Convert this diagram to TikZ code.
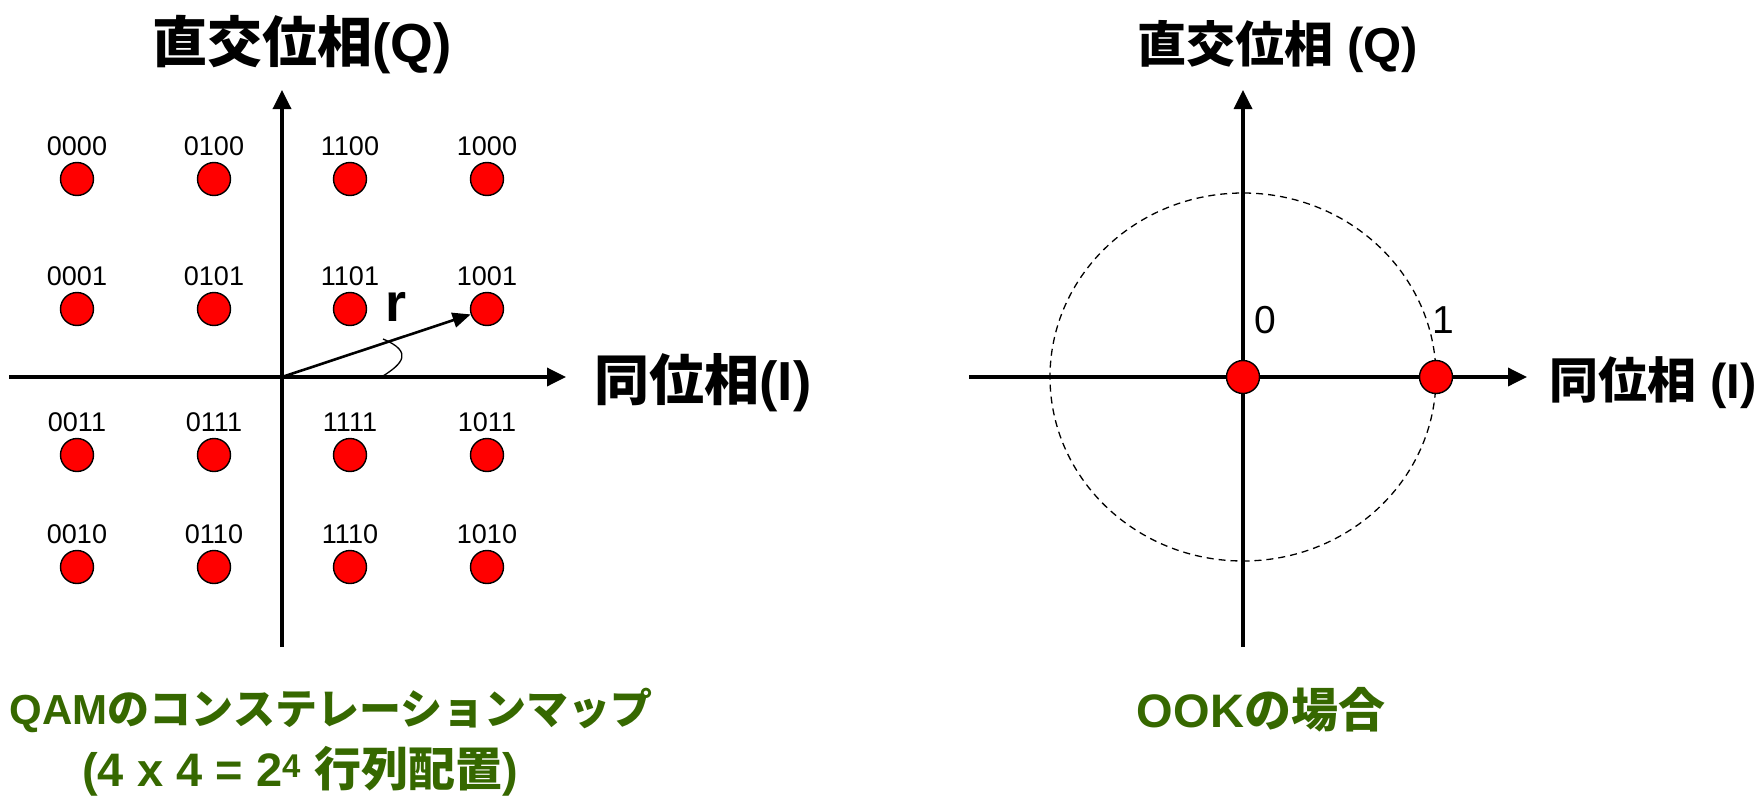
\documentclass[tikz,border=0pt]{standalone}
\usepackage{fontspec}
\setmainfont{Liberation Sans}
\newfontfamily\cjk{Noto Sans CJK JP}
\usetikzlibrary{arrows.meta}
\definecolor{capgreen}{RGB}{54,104,0}
\tikzset{
  dot/.style={circle, draw=black, line width=1.4pt, fill=red, minimum size=33pt, inner sep=0pt},
  bitlbl/.style={inner sep=0pt, font=\fontsize{27}{30}\selectfont},
  onelbl/.style={inner sep=0pt, font=\fontsize{39}{44}\selectfont},
  axisline/.style={line width=3.5pt, -{Triangle[length=19pt,width=18pt]}},
  axlbl/.style={inner sep=0pt, font=\fontsize{55}{62}\selectfont\bfseries},
  axlblr/.style={inner sep=0pt, font=\fontsize{49}{56}\selectfont\bfseries},
  captxt/.style={inner sep=0pt, text=capgreen, font=\fontsize{42}{50}\selectfont\bfseries},
  captxtb/.style={inner sep=0pt, text=capgreen, font=\fontsize{47}{54}\selectfont\bfseries},
}
\begin{document}
\begin{tikzpicture}[x=1pt,y=-1pt]
\useasboundingbox (0,0) rectangle (1762,800);
% ---------- left panel ----------
\coordinate (lo) at (282,377);
\coordinate (lxs) at (9,377);
\coordinate (lxe) at (566,377);
\coordinate (lys) at (282,647);
\coordinate (lye) at (282,90);
\draw[axisline] (lxs) -- (lxe);
\draw[axisline] (lys) -- (lye);
\node[axlbl] (lq) at (302,45) {{\cjk 直交位相}(Q)};
\node[axlbl] (li) at (703,383) {{\cjk 同位相}(I)};
\foreach \lab/\x/\y in {
  0000/77/179, 0100/214/179, 1100/350/179, 1000/487/179,
  0001/77/309, 0101/214/309, 1101/350/309, 1001/487/309,
  0011/77/455, 0111/214/455, 1111/350/455, 1011/487/455,
  0010/77/567, 0110/214/567, 1110/350/567, 1010/487/567}{
  \node[dot] (d\lab) at (\x,\y) {};
  \node[bitlbl] (t\lab) at (\x,\y-33) {\lab};
}
\draw[line width=2.6pt, -{Triangle[length=18pt,width=15pt]}] (lo) -- (d1001);
\node[inner sep=0pt, font=\fontsize{54}{60}\selectfont\bfseries] (rl) at (396,307) {r};
\coordinate (a1) at (383,339);
\coordinate (a2) at (383,376);
\draw[line width=1.3pt] (a1) .. controls (414,352) and (402,364) .. (a2);
\node[captxt] (c1) at (331,710) {QAM{\cjk のコンステレーションマップ}};
\node[captxtb] (c2) at (300,771) {(4 x 4 = 2\textsuperscript{4} {\cjk 行列配置})};
% ---------- right panel ----------
\coordinate (ro) at (1243,377);
\coordinate (rxs) at (969,377);
\coordinate (rxe) at (1527,377);
\coordinate (rys) at (1243,647);
\coordinate (rye) at (1243,90);
\draw[line width=1.3pt, dash pattern=on 7pt off 5pt] (ro) ellipse [x radius=193pt, y radius=184pt];
\draw[axisline] (rxs) -- (rxe);
\draw[axisline] (rys) -- (rye);
\node[dot] (p0) at (ro) {};
\node[dot] (p1) at (1436,377) {};
\node[onelbl] (l0) at (1265,320) {0};
\node[onelbl] (l1) at (1443,320) {1};
\node[axlblr] (rq) at (1278,47) {{\cjk 直交位相} (Q)};
\node[axlblr] (ri) at (1653,383) {{\cjk 同位相} (I)};
\node[captxtb] (c3) at (1261,710) {OOK{\cjk の場合}};
\end{tikzpicture}
\end{document}
